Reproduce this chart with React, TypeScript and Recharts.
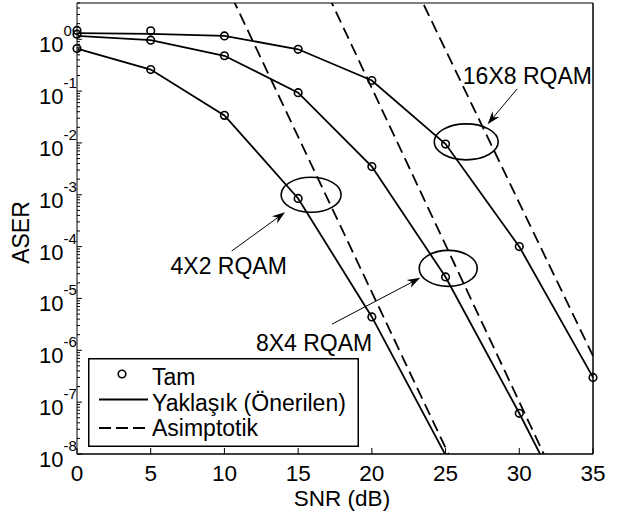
import React from "react";
import {
  ComposedChart,
  Line,
  Scatter,
  XAxis,
  YAxis,
  ReferenceLine,
  ReferenceDot,
  Legend,
} from "recharts";

const FONT = "'Liberation Sans', Arial, Helvetica, sans-serif";

// SNR (dB) grid
const snr = [0, 5, 10, 15, 20, 25, 30, 35];
const snrTicks = [0, 5, 10, 15, 20, 25, 30, 35];

// Tam (exact) - circles
const tam4x2 = [0.66, 0.26, 0.034, 8.5e-4, 4.4e-6];
const tam8x4 = [1.25, 0.96, 0.48, 0.093, 3.5e-3, 2.6e-5, 6.1e-8];
const tam16x8 = [1.48, 1.45, 1.16, 0.64, 0.16, 9.5e-3, 1.0e-4, 3.0e-7];

// Yaklasik (proposed approximation) - solid
const yak4x2 = [0.66, 0.26, 0.034, 8.5e-4, 4.4e-6, 9.5e-9];
const yak8x4 = [1.16, 0.96, 0.48, 0.093, 3.5e-3, 2.6e-5, 6.1e-8, 1.0e-10];
const yak16x8 = [1.31, 1.27, 1.16, 0.64, 0.16, 9.5e-3, 1.0e-4, 3.0e-7];

// Asimptotik - dashed (two points each, straight on the log axis)
const asySnr4x2 = [10, 26];
const asy4x2 = [13.2, 3.3e-9];
const asySnr8x4 = [16, 33];
const asy8x4 = [30, 1.55e-9];
const asySnr16x8 = [23, 35];
const asy16x8 = [9.4, 7.8e-7];

const yMajor = [1e-8, 1e-7, 1e-6, 1e-5, 1e-4, 1e-3, 1e-2, 1e-1, 1];
const yMinor: number[] = [];
yMajor.forEach((d) => {
  [2, 3, 4, 5, 6, 7, 8, 9].forEach((m) => {
    const v = Number((m * d).toPrecision(3));
    if (v <= 5) yMinor.push(v);
  });
});
const yTicks = [...yMajor, ...yMinor].sort((a, b) => a - b);

// annotations (data coordinates)
const ellipses = [
  { x: 15.88, y: 1.0e-3, rx: 30, ry: 17.5 },
  { x: 25.18, y: 3.8e-5, rx: 29, ry: 18 },
  { x: 26.4, y: 1.05e-2, rx: 32, ry: 18 },
];
const arrows = [
  { x1: 10.49, y1: 8.2e-5, x2: 14.11, y2: 4.6e-4 },
  { x1: 17.3, y1: 3.2e-6, x2: 23.28, y2: 2.5e-5 },
  { x1: 29.85, y1: 0.11, x2: 27.85, y2: 0.023 },
];
const labels = [
  { x: 10.29, y: 4.2e-5, text: "4X2 RQAM" },
  { x: 16.08, y: 1.4e-6, text: "8X4 RQAM" },
  { x: 30.55, y: 0.197, text: "16X8 RQAM" },
];

const pts = (xs: number[], ys: number[]) => ys.map((y, i) => ({ x: xs[i], y }));

const Circle = (p: any) => (
  <circle cx={p.cx} cy={p.cy} r={3.8} fill="none" stroke="#000" strokeWidth={1.6} />
);

const YTick = (props: any) => {
  const { x, y, payload } = props;
  const v = payload.value;
  if (!yMajor.includes(v)) {
    return <line x1={x} x2={x + 3} y1={y} y2={y} stroke="#000" strokeWidth={1} />;
  }
  const exp = Math.round(Math.log10(v));
  return (
    <g fontFamily={FONT} fill="#000">
      <line x1={x} x2={x + 5} y1={y} y2={y} stroke="#000" strokeWidth={1} />
      <text x={x - 38} y={y + 13} fontSize={22}>
        10
        <tspan dy={-16} fontSize={15}>{String(exp)}</tspan>
      </text>
    </g>
  );
};

const XTick = (props: any) => {
  const { x, y, payload } = props;
  return (
    <g>
      <line x1={x} x2={x} y1={y} y2={y - 6} stroke="#000" strokeWidth={1} />
      <text x={x} y={y + 27} textAnchor="middle" fontSize={22.5} fontFamily={FONT} fill="#000">
        {payload.value}
      </text>
    </g>
  );
};

const Arrow = (p: any) => {
  const { x1, y1, x2, y2 } = p;
  const a = Math.atan2(y2 - y1, x2 - x1);
  const L = 13;
  const W = 4.5;
  const bx = x2 - L * Math.cos(a);
  const by = y2 - L * Math.sin(a);
  const nx = x2 - L * 0.7 * Math.cos(a);
  const ny = y2 - L * 0.7 * Math.sin(a);
  const px = -Math.sin(a) * W;
  const py = Math.cos(a) * W;
  return (
    <g>
      <line x1={x1} y1={y1} x2={nx} y2={ny} stroke="#000" strokeWidth={1} />
      <polygon
        points={`${x2},${y2} ${bx + px},${by + py} ${nx},${ny} ${bx - px},${by - py}`}
        fill="#000"
      />
    </g>
  );
};

const LegendBox = () => (
  <svg width={271} height={89} style={{ display: "block" }}>
    <rect x={0.75} y={0.75} width={269.5} height={87.5} fill="#fff" stroke="#000" strokeWidth={1.5} />
    <g fontFamily={FONT} fontSize={23} fill="#000">
      <circle cx={34} cy={16} r={3.8} fill="none" stroke="#000" strokeWidth={1.6} />
      <text x={64} y={27}>Tam</text>
      <line x1={11} x2={60} y1={41.5} y2={41.5} stroke="#000" strokeWidth={1.8} />
      <text x={64} y={52.5}>Yaklaşık (Önerilen)</text>
      <line x1={11} x2={60} y1={70} y2={70} stroke="#000" strokeWidth={1.8} strokeDasharray="12 5" />
      <text x={64} y={78}>Asimptotik</text>
    </g>
  </svg>
);

const lineProps = {
  type: "linear" as const,
  dataKey: "y",
  yAxisId: "main",
  stroke: "#000",
  strokeWidth: 1.8,
  dot: false,
  activeDot: false,
  isAnimationActive: false,
  legendType: "none" as const,
};

export default function App() {
  return (
    <div style={{ position: "absolute", left: 0, top: 0, width: 624, height: 516, background: "#fff" }}>
      <ComposedChart width={624} height={516} margin={{ top: 3, right: 31, left: 0, bottom: 0 }}>
        <XAxis
          type="number"
          dataKey="x"
          domain={[0, 35]}
          ticks={snrTicks}
          interval={0}
          tickSize={0}
          tickMargin={0}
          tickLine={false}
          tick={XTick}
          height={62}
          axisLine={{ stroke: "#000", strokeWidth: 1.5 }}
          label={{
            content: (p: any) => {
              const vb = p.viewBox;
              return (
                <text x={vb.x + vb.width / 2 + 7} y={vb.y + 52} textAnchor="middle" fontSize={22.5} fontFamily={FONT} fill="#000">
                  SNR (dB)
                </text>
              );
            },
          }}
        />
        <YAxis
          yAxisId="main"
          type="number"
          dataKey="y"
          scale="log"
          domain={[1e-8, 5]}
          allowDataOverflow
          ticks={yTicks}
          interval={0}
          tickSize={0}
          tickMargin={0}
          tickLine={false}
          tick={YTick}
          width={77}
          axisLine={{ stroke: "#555", strokeWidth: 1.5 }}
          label={{
            content: (p: any) => {
              const vb = p.viewBox;
              const cx = vb.x + 21;
              const cy = vb.y + vb.height / 2 + 4;
              return (
                <text x={cx} y={cy} transform={`rotate(-90 ${cx} ${cy})`} textAnchor="middle" dominantBaseline="central" fontSize={23} fontFamily={FONT} fill="#000">
                  ASER
                </text>
              );
            },
          }}
        />
        <YAxis yAxisId="pts" type="number" dataKey="y" scale="log" domain={[1e-8, 5]} hide width={0} />

        <ReferenceLine yAxisId="main" y={5} stroke="#555" strokeWidth={1.5} ifOverflow="visible" />
        <ReferenceLine yAxisId="main" x={35} stroke="#000" strokeWidth={1.5} ifOverflow="visible" />

        <Line {...lineProps} data={pts(snr, yak4x2)} />
        <Line {...lineProps} data={pts(snr, yak8x4)} />
        <Line {...lineProps} data={pts(snr, yak16x8)} />
        <Line {...lineProps} data={pts(asySnr4x2, asy4x2)} strokeDasharray="12 6" />
        <Line {...lineProps} data={pts(asySnr8x4, asy8x4)} strokeDasharray="12 6" />
        <Line {...lineProps} data={pts(asySnr16x8, asy16x8)} strokeDasharray="12 6" />

        <Scatter yAxisId="pts" data={pts(snr, tam4x2)} shape={Circle} isAnimationActive={false} legendType="none" />
        <Scatter yAxisId="pts" data={pts(snr, tam8x4)} shape={Circle} isAnimationActive={false} legendType="none" />
        <Scatter yAxisId="pts" data={pts(snr, tam16x8)} shape={Circle} isAnimationActive={false} legendType="none" />

        {ellipses.map((e, i) => (
          <ReferenceDot
            key={`e${i}`}
            yAxisId="main"
            x={e.x}
            y={e.y}
            shape={(p: any) => (
              <ellipse cx={p.cx} cy={p.cy} rx={e.rx} ry={e.ry} fill="none" stroke="#000" strokeWidth={1.6} />
            )}
          />
        ))}
        {arrows.map((a, i) => (
          <ReferenceLine
            key={`a${i}`}
            yAxisId="main"
            segment={[{ x: a.x1, y: a.y1 }, { x: a.x2, y: a.y2 }]}
            shape={Arrow}
          />
        ))}
        {labels.map((l, i) => (
          <ReferenceDot
            key={`l${i}`}
            yAxisId="main"
            x={l.x}
            y={l.y}
            shape={(p: any) => (
              <text x={p.cx} y={p.cy} textAnchor="middle" dominantBaseline="central" fontSize={23} fontFamily={FONT} fill="#000">
                {l.text}
              </text>
            )}
          />
        ))}

        <Legend
          layout="vertical"
          align="center"
          verticalAlign="middle"
          content={LegendBox}
          wrapperStyle={{ position: "absolute", left: 88, top: 358, width: 271, height: 89 }}
        />
      </ComposedChart>
    </div>
  );
}
